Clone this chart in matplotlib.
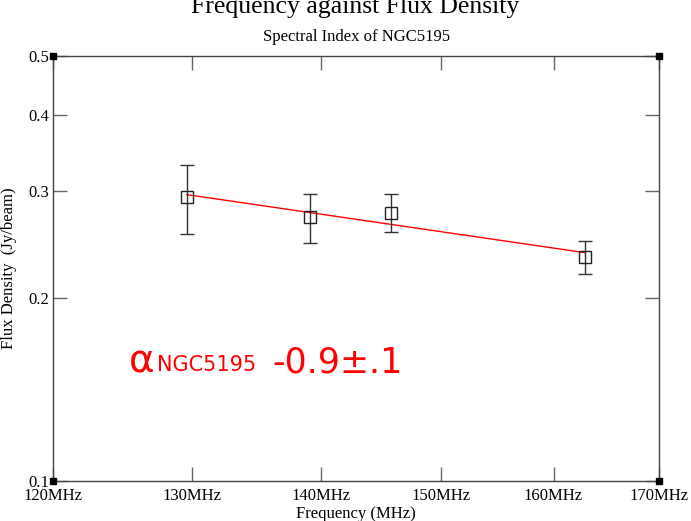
import numpy as np
import matplotlib.pyplot as plt
from matplotlib.ticker import FixedLocator, FixedFormatter, NullLocator

# flux measurements of NGC5195
freq = [129.6, 139.1, 145.7, 162.9]          # MHz
flux = [0.293, 0.2715, 0.2763, 0.2334]       # Jy/beam
flux_err = [0.038, 0.025, 0.020, 0.0145]

xticks = [120, 130, 140, 150, 160, 170]
xticklabels = ['120MHz', '130MHz', '140MHz', '150MHz', '160MHz', '170MHz']
yticks = [0.1, 0.2, 0.3, 0.4, 0.5]
yticklabels = ['0.1', '0.2', '0.3', '0.4', '0.5']

serif = 'Liberation Serif'

fig = plt.figure(figsize=(6.91, 5.21), dpi=100)
ax = fig.add_axes([53/691, 40/521, 606/691, 425/521])

# power law fit in log-log space
slope, icpt = np.polyfit(np.log(freq), np.log(flux), 1)
fx = np.array([freq[0], freq[-1]])
ax.plot(fx, np.exp(icpt) * fx**slope, color='red', lw=1, zorder=2)

ax.errorbar(freq, flux, yerr=flux_err, fmt='s', mfc='none', mec='#222222',
            ms=8, mew=1, ecolor='#333333', elinewidth=1, capsize=4.7,
            capthick=1, zorder=3)

ax.set_xscale('log')
ax.set_yscale('log')
ax.set_xlim(120, 170)
ax.set_ylim(0.1, 0.5)

ax.xaxis.set_major_locator(FixedLocator(xticks))
ax.xaxis.set_major_formatter(FixedFormatter(xticklabels))
ax.yaxis.set_major_locator(FixedLocator(yticks))
ax.yaxis.set_major_formatter(FixedFormatter(yticklabels))
ax.xaxis.set_minor_locator(NullLocator())
ax.yaxis.set_minor_locator(NullLocator())

ax.tick_params(which='major', direction='in', length=10, width=1, color='#666666',
               top=True, right=True, labelsize=12, pad=3)
ax.tick_params(axis='x', pad=5)
for lab in ax.get_xticklabels() + ax.get_yticklabels():
    lab.set_family(serif)
for sp in ax.spines.values():
    sp.set_color('#444444')
    sp.set_linewidth(1)

# grace-style corner markers
ax.plot([0, 1, 0, 1], [0, 0, 1, 1], 's', color='black', ms=4,
        transform=ax.transAxes, clip_on=False, zorder=5)

ax.set_xlabel('Frequency (MHz)', family=serif, fontsize=12)
ax.xaxis.set_label_coords(0.5, -0.058)
ax.set_ylabel('Flux Density  (Jy/beam)', family=serif, fontsize=12)
ax.yaxis.set_label_coords(-0.06, 0.5)

fig.text(0.514, 1 - 13.5/521, 'Frequency against Flux Density', family=serif,
         fontsize=18.5, ha='center', va='baseline')
fig.text(0.516, 1 - 41/521, 'Spectral Index of NGC5195', family=serif,
         fontsize=12, ha='center', va='baseline')

# spectral index label
red = dict(transform=ax.transAxes, color='red', va='baseline')
ax.text(0.125, 0.256, 'α', fontsize=28, **red)
ax.text(0.171, 0.259, 'NGC5195', fontsize=15, **red)
ax.text(0.362, 0.256, '-0.9±.1', fontsize=25, **red)

fig.savefig('out.png', dpi=100)
